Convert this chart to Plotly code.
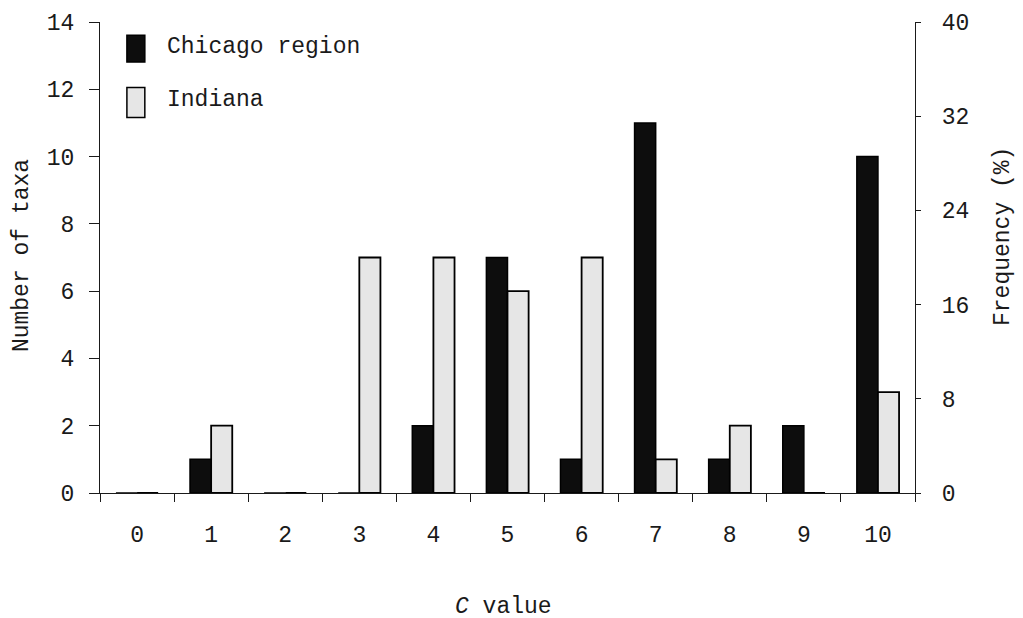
import plotly.graph_objects as go

c_values = ["0", "1", "2", "3", "4", "5", "6", "7", "8", "9", "10"]
chicago = [0, 1, 0, 0, 2, 7, 1, 11, 1, 2, 10]
indiana = [0, 2, 0, 7, 7, 6, 7, 1, 2, 0, 3]
left_ticks = [0, 2, 4, 6, 8, 10, 12, 14]
right_ticks = [0, 8, 16, 24, 32, 40]

total = sum(chicago)
chicago_pct = [v / total * 100 for v in chicago]

FONT = "Liberation Mono, Courier New, monospace"
FS = 23
INK = "#1a1a1a"

fig = go.Figure()
fig.add_bar(x=c_values, y=chicago, name="Chicago region",
            marker=dict(color="#0d0d0d", line=dict(color="#000", width=1.5)))
fig.add_bar(x=c_values, y=indiana, name="Indiana",
            marker=dict(color="#e6e6e6", line=dict(color="#000", width=1.8)))
fig.add_scatter(x=c_values, y=chicago_pct, yaxis="y2", mode="markers",
                marker=dict(opacity=0, size=1), hoverinfo="skip", showlegend=False)

fig.update_layout(
    width=1023, height=618,
    margin=dict(l=92, r=116, t=14, b=133),
    paper_bgcolor="white", plot_bgcolor="white",
    font=dict(family=FONT, size=FS, color=INK),
    barmode="group", bargap=0.43, bargroupgap=0,
    showlegend=False,
    xaxis=dict(type="category", range=[-0.5, 10.5], tickson="boundaries",
               ticks="outside", ticklen=8,
               tickwidth=1.3, tickcolor=INK, showline=True, linecolor=INK, linewidth=1.3,
               showgrid=False, zeroline=False, ticklabelstandoff=20, automargin=False),
    yaxis=dict(range=[0, 14], tickvals=left_ticks, ticks="outside", ticklen=10,
               tickwidth=1.3, tickcolor=INK, showline=True, linecolor=INK, linewidth=1.3,
               showgrid=False, zeroline=False, ticklabelstandoff=10, automargin=False),
    yaxis2=dict(range=[0, 40], tickvals=right_ticks, overlaying="y", side="right",
                ticks="outside", ticklen=5, tickwidth=1.3, tickcolor=INK,
                showline=True, linecolor=INK, linewidth=1.3, showgrid=False,
                zeroline=False, ticklabelstandoff=16, automargin=False),
)

# Axis titles
titles = [("Number of taxa", -0.0957, 0.503, -90),
          ("Frequency (%)", 1.108, 0.5435, -90),
          ("<i>C</i> value", 0.4945, -0.242, 0)]
for text, x, y, ang in titles:
    fig.add_annotation(text=text, xref="paper", yref="paper", x=x, y=y,
                       xanchor="center", yanchor="middle", textangle=ang,
                       showarrow=False, font=dict(family=FONT, size=FS, color=INK))

# Legend drawn manually to match tall rectangle swatches
legend_items = [("Chicago region", "#0d0d0d", 0.972, 0.915, 0.947),
                ("Indiana", "#e6e6e6", 0.861, 0.797, 0.834)]
for label, color, y1, y0, ty in legend_items:
    fig.add_shape(type="rect", xref="paper", yref="paper", x0=0.033, x1=0.055,
                  y0=y0, y1=y1, fillcolor=color, line=dict(color="#000", width=1.5))
    fig.add_annotation(text=label, xref="paper", yref="paper", x=0.080, y=ty,
                       xanchor="left", yanchor="middle", showarrow=False,
                       font=dict(family=FONT, size=FS, color=INK))

fig.write_html("out.html")
